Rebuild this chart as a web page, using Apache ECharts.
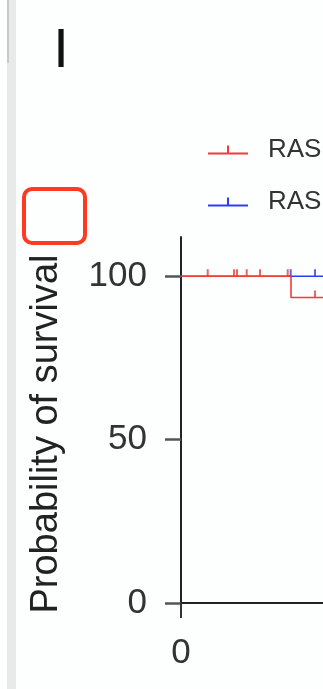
<!DOCTYPE html>
<html>
<head>
<meta charset="utf-8">
<script src="https://cdn.jsdelivr.net/npm/echarts@6/dist/echarts.min.js"></script>
<style>
  html, body { margin: 0; padding: 0; background: #fdfefe; }
  #chart { width: 323px; height: 689px; }
</style>
</head>
<body>
<div id="chart"></div>
<script>
// survival curves (time, probability %)
const redName = 'RAS wild-type';
const blueName = 'RAS mutant';
const redCurve = [[0, 100], [11.0, 93.5], [14.2, 93.5]];
const blueCurve = [[0, 100], [14.2, 100]];
// censored patients
const redCensored = [[2.67, 100], [5.3, 100], [5.6, 100], [6.57, 100], [7.9, 100], [10.67, 100], [13.4, 93.5]];
const blueCensored = [[10.97, 100], [13.4, 100]];
const yTicks = [0, 50, 100];
const xTicks = [0];

const red = '#f23b3b';
const blue = '#2f3df2';
const font = 'Liberation Sans';

const chart = echarts.init(document.getElementById('chart'));

const option = {
  animation: false,
  backgroundColor: '#fdfefe',
  grid: { left: 181, right: 0, top: 237, bottom: 86 },
  legend: {
    orient: 'vertical',
    left: 208,
    top: 137,
    padding: 0,
    itemWidth: 40,
    itemHeight: 10,
    itemGap: 26,
    icon: 'path://M0,8h40v2H0z M19,1h2v7h-2z',
    data: [redName, blueName],
    textStyle: { fontFamily: font, fontSize: 26, color: '#333', padding: [0, 0, 0, 15] }
  },
  xAxis: {
    type: 'value',
    min: 0,
    max: 14.2,
    splitLine: { show: false },
    axisLine: { lineStyle: { color: '#222', width: 2 } },
    axisTick: { show: true, length: 15, customValues: xTicks, lineStyle: { color: '#333', width: 2 } },
    axisLabel: { customValues: xTicks, margin: 33, fontFamily: font, fontSize: 35, color: '#333' }
  },
  yAxis: {
    type: 'value',
    min: 0,
    max: 112,
    name: 'Probability of survival',
    nameLocation: 'middle',
    nameRotate: 90,
    nameGap: 115,
    nameTextStyle: { fontFamily: font, fontSize: 38, color: '#222', padding: [0, 28, 0, 0] },
    splitLine: { show: false },
    axisLine: { show: true, lineStyle: { color: '#222', width: 2 } },
    axisTick: { show: true, length: 16, customValues: yTicks, lineStyle: { color: '#555', width: 2.5 } },
    axisLabel: { customValues: yTicks, margin: 34, fontFamily: font, fontSize: 35, color: '#333' }
  },
  series: [
    {
      name: blueName, type: 'line', step: 'end', data: blueCurve,
      showSymbol: false, color: blue, lineStyle: { color: blue, width: 1.6 }, z: 2
    },
    {
      name: redName, type: 'line', step: 'end', data: redCurve,
      showSymbol: false, color: red, lineStyle: { color: red, width: 1.6 }, z: 3
    },
    {
      name: blueName + ' censored', type: 'scatter', data: blueCensored,
      symbol: 'rect', symbolSize: [2, 7], symbolOffset: [0, -3.5],
      itemStyle: { color: blue }, z: 4
    },
    {
      name: redName + ' censored', type: 'scatter', data: redCensored,
      symbol: 'rect', symbolSize: [2, 7], symbolOffset: [0, -3.5],
      itemStyle: { color: red }, z: 5
    }
  ],
  graphic: [
    { type: 'rect', shape: { x: 7, y: 0, width: 9, height: 689 }, style: { fill: '#e9e9e9' } },
    { type: 'rect', shape: { x: 7, y: 0, width: 2, height: 63 }, style: { fill: '#c9c9c9' } },
    { type: 'text', style: { text: 'I', x: 61, y: 52, fontFamily: font, fontSize: 56, fill: '#111', textAlign: 'center', textVerticalAlign: 'middle' } },
    { type: 'rect', shape: { x: 24, y: 189, width: 61, height: 54, r: 8 }, style: { fill: 'none', stroke: '#ff3a22', lineWidth: 4 } }
  ]
};

chart.setOption(option);
</script>
</body>
</html>
